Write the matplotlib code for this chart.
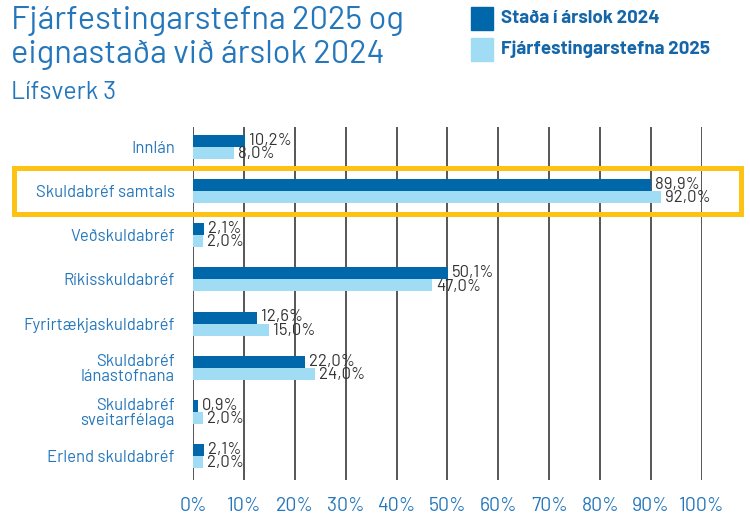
import matplotlib.pyplot as plt
from matplotlib.patches import Rectangle
import matplotlib.transforms as mtransforms
import numpy as np

plt.rcParams['font.family'] = ['Barlow', 'DejaVu Sans']

# Asset classes and the two series (percent)
categories = ['Innlán', 'Skuldabréf samtals', 'Veðskuldabréf', 'Ríkisskuldabréf',
              'Fyrirtækjaskuldabréf', 'Skuldabréf\nlánastofnana',
              'Skuldabréf\nsveitarfélaga', 'Erlend skuldabréf']
stada_2024 = [10.2, 89.9, 2.1, 50.1, 12.6, 22.0, 0.9, 2.1]
stefna_2025 = [8.0, 92.0, 2.0, 47.0, 15.0, 24.0, 2.0, 2.0]
xticks = list(range(0, 101, 10))
highlight = 'Skuldabréf samtals'

dark = '#0068aa'
light = '#a0dcf4'
blue_text = '#2577bb'
label_grey = '#333333'

fig = plt.figure(figsize=(7.5, 5.15), dpi=100)
ax = fig.add_axes([0.2573, 0.068, 0.6787, 0.6854])

y = np.arange(len(categories))
h = 0.27
ax.barh(y - h / 2, stada_2024, height=h, color=dark, zorder=3)
ax.barh(y + h / 2, stefna_2025, height=h, color=light, zorder=3)

for i, (a, b) in enumerate(zip(stada_2024, stefna_2025)):
    ax.annotate(f'{a:.1f}%'.replace('.', ','), (a, i - h / 2), xytext=(3, 0.5),
                textcoords='offset points', va='center', ha='left',
                fontsize=12, color=label_grey, zorder=4)
    ax.annotate(f'{b:.1f}%'.replace('.', ','), (b, i + h / 2), xytext=(3, -0.5),
                textcoords='offset points', va='center', ha='left',
                fontsize=12, color=label_grey, zorder=4)

for x in xticks:
    ax.axvline(x, color='#3a3a3a', lw=1.2, zorder=1)

ax.set_xlim(0, 100)
ax.set_ylim(7.54, -0.45)
ax.set_xticks(xticks)
ax.set_xticklabels([f'{t}%' for t in xticks], color=blue_text, fontsize=14)
ax.set_yticks(y)
ax.set_yticklabels(categories, color=blue_text, fontsize=12, linespacing=1.0)
ax.tick_params(axis='both', length=0)
ax.tick_params(axis='x', pad=12)
ax.tick_params(axis='y', pad=13)
for s in ax.spines.values():
    s.set_visible(False)

# Highlight frame around the total row
row = categories.index(highlight)
trans = mtransforms.blended_transform_factory(fig.transFigure, ax.transData)
ax.add_patch(Rectangle((14 / 750, row - 0.52), (740.5 - 14) / 750, 1.04,
                       transform=trans, fill=False, edgecolor='#fdc314',
                       lw=3.6, clip_on=False, zorder=5))

# Title, subtitle and legend
fig.text(11 / 750, 1 - 29 / 515, 'Fjárfestingarstefna 2025 og',
         ha='left', va='baseline', fontsize=23.5, color=blue_text)
fig.text(11 / 750, 1 - 63 / 515, 'eignastaða við árslok 2024',
         ha='left', va='baseline', fontsize=23.5, color=blue_text)
fig.text(11 / 750, 1 - 99 / 515, 'Lífsverk 3', ha='left', va='baseline',
         fontsize=18, color=blue_text)

legend_items = [('Staða í árslok 2024', dark, 18.5), ('Fjárfestingarstefna 2025', light, 49.5)]
for text, col, yc in legend_items:
    fig.patches.append(Rectangle((471 / 750, 1 - (yc + 11.5) / 515), 22 / 750, 23 / 515,
                                 transform=fig.transFigure, color=col, figure=fig))
    fig.text(501 / 750, 1 - yc / 515, text, ha='left', va='center',
             fontsize=13.5, fontweight='bold', color='#1566a8')

fig.savefig('out.png', dpi=100)
